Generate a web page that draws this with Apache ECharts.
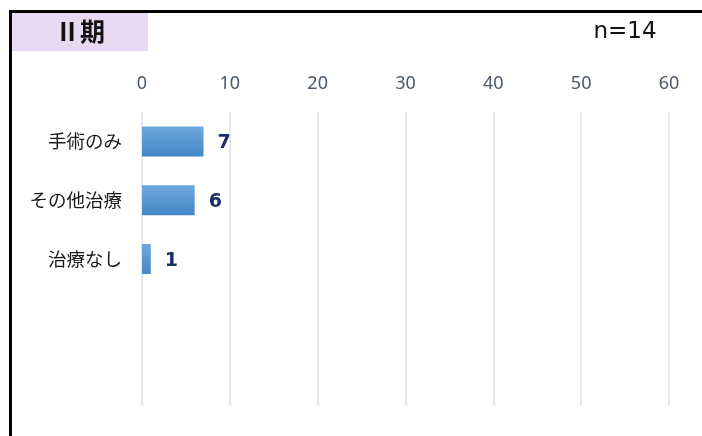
<!DOCTYPE html>
<html><head><meta charset="utf-8">
<script src="https://cdn.jsdelivr.net/npm/echarts@6/dist/echarts.min.js"></script>
<style>html,body{margin:0;padding:0;background:#fff;}#c{width:702px;height:436px;}</style>
</head><body><div id="c"></div>
<script>
const categories = ['手術のみ', 'その他治療', '治療なし', '', ''];
const values = [7, 6, 1, null, null];
const tickMax = 60;
const tickStep = 10;
const titleText = 'Ⅱ期';
const nText = 'n=14';

const chart = echarts.init(document.getElementById('c'), null, {renderer: 'canvas'});
chart.setOption({
  animation: false,
  graphic: [
    {type: 'rect', shape: {x: 9, y: 10, width: 700, height: 3}, style: {fill: '#000'}},
    {type: 'rect', shape: {x: 9, y: 10, width: 3, height: 430}, style: {fill: '#000'}},
    {type: 'rect', shape: {x: 12, y: 13, width: 136, height: 38}, style: {fill: '#e6d9f1'}},
    {type: 'text', x: 80, y: 31, style: {text: titleText, font: 'bold 25px "Noto Sans CJK JP"', fill: '#111', align: 'center', verticalAlign: 'middle'}},
    {type: 'text', x: 625, y: 32, style: {text: nText, font: '23px "DejaVu Sans", sans-serif', fill: '#111', align: 'center', verticalAlign: 'middle'}}
  ],
  grid: {left: 142, right: 33, top: 112, bottom: 30, containLabel: false},
  xAxis: {
    type: 'value', position: 'top', min: 0, max: tickMax, interval: tickStep,
    axisLine: {show: false}, axisTick: {show: false},
    axisLabel: {color: '#4a5a6c', fontSize: 18, margin: 28, verticalAlign: 'middle', lineHeight: 18, fontFamily: '"Noto Sans", sans-serif'},
    splitLine: {show: true, lineStyle: {color: '#dde2ea', width: 1.5}}
  },
  yAxis: {
    type: 'category', data: categories, inverse: true,
    axisLine: {show: false}, axisTick: {show: false},
    axisLabel: {color: '#1a1a1a', fontSize: 18.5, margin: 20, fontFamily: '"Noto Sans CJK JP"'}
  },
  series: [{
    type: 'bar', data: values, barWidth: 30,
    itemStyle: {color: new echarts.graphic.LinearGradient(0, 0, 0, 1, [
      {offset: 0, color: '#6ea7de'}, {offset: 1, color: '#4486c8'}])},
    label: {show: true, position: 'right', distance: 14, color: '#1a2f66', fontSize: 19, fontWeight: 'bold', fontFamily: 'Verdana, "DejaVu Sans", sans-serif', offset: [0, 2]}
  }]
});
</script></body></html>
